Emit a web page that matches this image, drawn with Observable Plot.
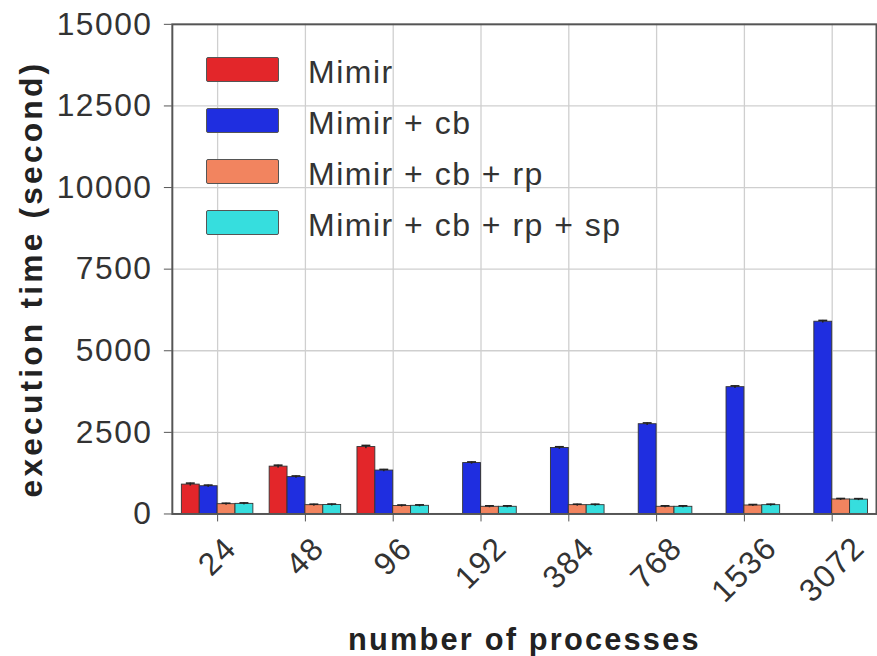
<!DOCTYPE html>
<html>
<head>
<meta charset="utf-8">
<script src="https://cdn.jsdelivr.net/npm/d3@7"></script>
<script src="https://cdn.jsdelivr.net/npm/@observablehq/plot@0.6"></script>
<style>
  html, body { margin: 0; padding: 0; background: #fff; overflow: hidden; width: 877px; height: 656px; }
  #wrap { position: relative; width: 877px; height: 656px; overflow: hidden; }
  #wrap svg text { letter-spacing: 1.5px; }
  #wrap svg g.xtitle text { letter-spacing: 2.2px; }
  #wrap svg g.ytitle text { letter-spacing: 3.2px; }
  #legend { position: absolute; left: 206px; top: 44px; font-family: "Liberation Sans", Arial, Helvetica, sans-serif; font-size: 32px; color: #333; letter-spacing: 1.5px; }
  .row { display: flex; align-items: center; height: 51px; white-space: nowrap; }
  .sw { width: 73px; height: 25px; border: 1.5px solid #555; box-sizing: border-box; border-radius: 2px; margin-right: 29px; flex: none; }
  .lbl { padding-top: 5px; }
</style>
</head>
<body>
<div id="wrap"></div>
<script>
// ---- data ----
const categories = ["24", "48", "96", "192", "384", "768", "1536", "3072"];
const seriesNames = ["Mimir", "Mimir + cb", "Mimir + cb + rp", "Mimir + cb + rp + sp"];
const seriesColors = ["#e3262a", "#1f2ee0", "#f2845f", "#36dede"];
const mimir        = [900, 1450, 2050, null, null, null, null, null];
const mimirCb      = [850, 1130, 1330, 1560, 2020, 2750, 3885, 5890];
const mimirCbRp    = [300, 270, 245, 220, 270, 220, 260, 445];
const mimirCbRpSp  = [310, 275, 250, 220, 270, 220, 270, 440];
const mimirErr       = [45, 45, 50, null, null, null, null, null];
const mimirCbErr     = [35, 35, 35, 35, 40, 40, 40, 40];
const mimirCbRpErr   = [30, 30, 30, 30, 30, 30, 30, 30];
const mimirCbRpSpErr = [30, 30, 30, 30, 30, 30, 30, 30];
const yTicks = [0, 2500, 5000, 7500, 10000, 12500, 15000];
const xTitle = "number of processes";
const yTitle = "execution time (second)";

const valuesBySeries = [mimir, mimirCb, mimirCbRp, mimirCbRpSp];
const errBySeries = [mimirErr, mimirCbErr, mimirCbRpErr, mimirCbRpSpErr];

const rows = [];
seriesNames.forEach((s, j) => categories.forEach((c, i) => {
  const v = valuesBySeries[j][i];
  if (v != null) rows.push({cat: c, series: s, j, value: v, err: errBySeries[j][i]});
}));

// ---- layout ----
const W = 883, H = 656, ML = 173, MR = 1, MT = 24, MB = 139;
const xRange = [174.4, 881.6];
const bw = (xRange[1] - xRange[0]) / categories.length;
const barW = 18, groupW = barW * seriesNames.length, left0 = (bw - groupW) / 2;
const font = '"Liberation Sans", Arial, Helvetica, sans-serif';

const marks = [
  Plot.gridY({ticks: yTicks, stroke: "#cfcfcf", strokeOpacity: 1, strokeWidth: 1.3}),
  Plot.gridX({stroke: "#cfcfcf", strokeOpacity: 1, strokeWidth: 1.3})
];

seriesNames.forEach((s, j) => {
  const data = rows.filter(r => r.j === j);
  const cx = left0 + barW * (j + 0.5);
  marks.push(Plot.barY(data, {
    x: "cat", y: "value", fill: seriesColors[j], stroke: "#333", strokeWidth: 0.9,
    insetLeft: left0 + barW * j, insetRight: bw - left0 - barW * (j + 1)
  }));
  marks.push(Plot.barY(data, {
    x: "cat", y1: d => d.value - d.err, y2: d => d.value + d.err, fill: "#222",
    insetLeft: cx - 0.75, insetRight: bw - cx - 0.75
  }));
  marks.push(Plot.tickY(data, {
    x: "cat", y: d => d.value + d.err, stroke: "#222", strokeWidth: 1.6,
    insetLeft: cx - 4.5, insetRight: bw - cx - 4.5
  }));
});

marks.push(Plot.frame({stroke: "#555", strokeWidth: 2}));
marks.push(Plot.axisY({ticks: yTicks, tickFormat: d => String(d), tickSize: 8, tickPadding: 12, label: null, stroke: "#555", fill: "#333"}));
marks.push(Plot.axisX({tickSize: 8, tickFormat: () => "", label: null, stroke: "#555"}));

[2, 3, 4].forEach(L => {
  marks.push(Plot.text(categories.filter(c => c.length === L), {
    x: d => d, text: d => d, frameAnchor: "bottom", rotate: -45,
    textAnchor: "middle", lineAnchor: "middle",
    dy: 43 + (L - 2) * 6.5, fontSize: 32, fill: "#333"
  }));
});

marks.push(Plot.text([yTitle], {
  text: d => d, frameAnchor: "left", textAnchor: "middle", lineAnchor: "middle",
  dx: -141, dy: 10, rotate: -90,
  fontWeight: "bold", fontSize: 32, fill: "#222", className: "ytitle"
}));
marks.push(Plot.text([xTitle], {
  text: d => d, frameAnchor: "bottom", textAnchor: "middle", lineAnchor: "middle",
  dy: 127, fontWeight: "bold", fontSize: 31, fill: "#222", className: "xtitle"
}));

const chart = Plot.plot({
  width: W, height: H,
  marginLeft: ML, marginRight: MR, marginTop: MT, marginBottom: MB,
  x: {type: "band", domain: categories, padding: 0, round: false, range: xRange},
  y: {domain: [0, 15000]},
  style: {fontFamily: font, fontSize: "32px", color: "#333", background: "transparent", overflow: "visible"},
  marks
});

const wrap = document.getElementById("wrap");
wrap.appendChild(chart);

// legend
const legend = document.createElement("div");
legend.id = "legend";
seriesNames.forEach((s, j) => {
  const row = document.createElement("div");
  row.className = "row";
  const sw = document.createElement("div");
  sw.className = "sw";
  sw.style.background = seriesColors[j];
  const lbl = document.createElement("span");
  lbl.className = "lbl";
  lbl.textContent = s;
  row.appendChild(sw);
  row.appendChild(lbl);
  legend.appendChild(row);
});
wrap.appendChild(legend);
</script>
</body>
</html>
